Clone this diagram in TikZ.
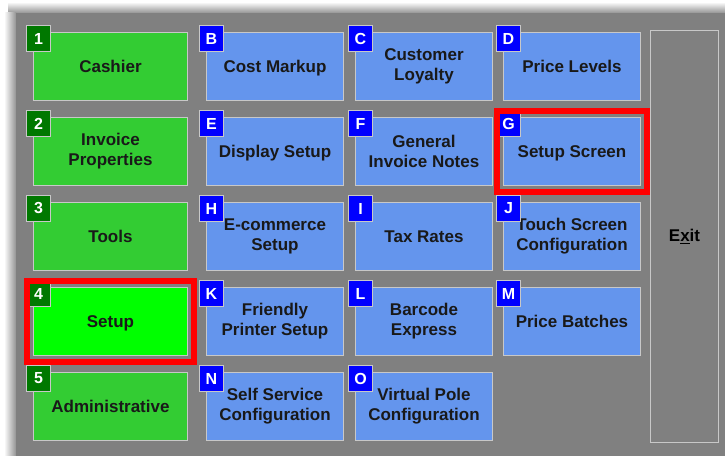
\documentclass[tikz,border=0pt]{standalone}
\usepackage{fontspec}
\setmainfont{Liberation Sans}
\usetikzlibrary{positioning,fit,calc}
\definecolor{panelgray}{HTML}{808080}
\definecolor{btngreen}{HTML}{33CC33}
\definecolor{selgreen}{HTML}{00FF00}
\definecolor{btnblue}{HTML}{6495ED}
\definecolor{badgegreen}{HTML}{007800}
\definecolor{badgeblue}{HTML}{0000FF}
\definecolor{btnedge}{HTML}{C8C8C8}
\definecolor{hilite}{HTML}{FF0000}

\begin{document}
\begin{tikzpicture}[
		x=0.75pt, y=-0.75pt,
		every node/.style={align=center},
		btn/.style={rectangle, draw=btnedge, line width=0.75pt, anchor=north west,
				minimum height=51pt, inner sep=2pt, text=black!90,
				font=\fontsize{12.75}{15}\selectfont\bfseries},
		oneline/.style={text height=9.1pt, text depth=0pt},
		gbtn/.style={btn, fill=btngreen, minimum width=115.5pt},
		bbtn/.style={btn, fill=btnblue, minimum width=102.75pt},
		badge/.style={rectangle, draw=btnedge, line width=0.75pt, anchor=north west,
				minimum width=18pt, minimum height=19.5pt, inner sep=0pt,
				text=white, font=\fontsize{12}{12}\selectfont\bfseries},
		gbadge/.style={badge, fill=badgegreen},
		bbadge/.style={badge, fill=badgeblue},
		frame/.style={rectangle, draw=hilite, line width=4.5pt, inner sep=4.5pt},
		]

		\useasboundingbox (0,0) rectangle (725,456);

		% window shadow and panel
		\fill[white] (0,0) rectangle (725,456);
		\shade[top color=white, bottom color=panelgray!85] (8,2) rectangle (725,13);
		\shade[left color=white, right color=panelgray!85] (4,13) rectangle (16,456);
		\fill[panelgray] (16,13) rectangle (725,456);

		% column 1: main menu
		\node[gbtn, oneline] (cashier) at (33,32)  {Cashier};
		\node[gbtn] (invprop) at (33,117) {Invoice\\Properties};
		\node[gbtn, oneline] (tools)   at (33,202) {Tools};
		\node[gbtn, oneline, fill=selgreen] (setup) at (33,287) {Setup};
		\node[gbtn, oneline] (admin)   at (33,372) {Administrative};

		% column 2
		\node[bbtn, oneline] (costmk)  at (206,32)  {Cost Markup};
		\node[bbtn, oneline] (dispset) at (206,117) {Display Setup};
		\node[bbtn] (ecom)    at (206,202) {E-commerce\\Setup};
		\node[bbtn] (printer) at (206,287) {Friendly\\Printer Setup};
		\node[bbtn] (selfsvc) at (206,372) {Self Service\\Configuration};

		% column 3
		\node[bbtn] (loyalty)  at (355,32)  {Customer\\Loyalty};
		\node[bbtn] (invnotes) at (355,117) {General\\Invoice Notes};
		\node[bbtn, oneline] (taxrates) at (355,202) {Tax Rates};
		\node[bbtn] (barcode)  at (355,287) {Barcode\\Express};
		\node[bbtn] (vpole)    at (355,372) {Virtual Pole\\Configuration};

		% column 4
		\node[bbtn, oneline] (pricelvl) at (503,32)  {Price Levels};
		\node[bbtn, oneline] (setupscr) at (503,117) {Setup Screen};
		\node[bbtn] (touch)    at (503,202) {Touch Screen\\Configuration};
		\node[bbtn, oneline] (batches)  at (503,287) {Price Batches};

		% exit
		\node[rectangle, draw=btnedge, line width=0.75pt, fill=panelgray,
			minimum width=51pt, minimum height=309pt, anchor=north west,
			text=black, font=\fontsize{12.75}{15}\selectfont\bfseries]
		(exit) at (650,30) {E\underline{x}it};

		% hotkey badges
		\node[gbadge] (k1) at ([shift={(-7,-7)}]cashier.north west) {1};
		\node[gbadge] (k2) at ([shift={(-7,-7)}]invprop.north west) {2};
		\node[gbadge] (k3) at ([shift={(-7,-7)}]tools.north west)   {3};
		\node[gbadge] (k4) at ([shift={(-7,-7)}]setup.north west)   {4};
		\node[gbadge] (k5) at ([shift={(-7,-7)}]admin.north west)   {5};

		\node[bbadge] (kB) at ([shift={(-7,-7)}]costmk.north west)  {B};
		\node[bbadge] (kE) at ([shift={(-7,-7)}]dispset.north west) {E};
		\node[bbadge] (kH) at ([shift={(-7,-7)}]ecom.north west)    {H};
		\node[bbadge] (kK) at ([shift={(-7,-7)}]printer.north west) {K};
		\node[bbadge] (kN) at ([shift={(-7,-7)}]selfsvc.north west) {N};

		\node[bbadge] (kC) at ([shift={(-7,-7)}]loyalty.north west)  {C};
		\node[bbadge] (kF) at ([shift={(-7,-7)}]invnotes.north west) {F};
		\node[bbadge] (kI) at ([shift={(-7,-7)}]taxrates.north west) {I};
		\node[bbadge] (kL) at ([shift={(-7,-7)}]barcode.north west)  {L};
		\node[bbadge] (kO) at ([shift={(-7,-7)}]vpole.north west)    {O};

		\node[bbadge] (kD) at ([shift={(-7,-7)}]pricelvl.north west) {D};
		\node[bbadge] (kG) at ([shift={(-7,-7)}]setupscr.north west) {G};
		\node[bbadge] (kJ) at ([shift={(-7,-7)}]touch.north west)    {J};
		\node[bbadge] (kM) at ([shift={(-7,-7)}]batches.north west)  {M};

		% red highlight frames
		\node[frame, fit=(setup)]    (selA) {};
		\node[frame, fit=(setupscr)] (selB) {};

	\end{tikzpicture}
\end{document}
